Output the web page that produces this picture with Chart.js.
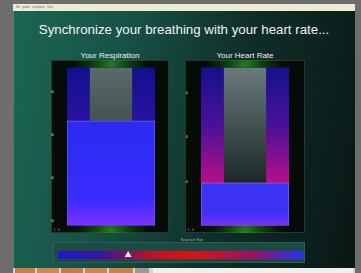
<!DOCTYPE html>
<html>
<head>
<meta charset="utf-8">
<script src="https://cdn.jsdelivr.net/npm/chart.js@4.4.0/dist/chart.umd.min.js"></script>
<style>
  body { margin: 0; width: 361px; height: 273px; background: #6d6d6d; overflow: hidden; position: relative; font-family: "Liberation Sans", Arial, sans-serif; }
  .abs { position: absolute; }
  #menu { left: 13px; top: 4px; width: 342px; height: 7px; background: #ecebd6; font-size: 3px; color: #666; line-height: 7px; padding-left: 3px; box-sizing: border-box; }
  #main { left: 13px; top: 11px; width: 342px; height: 258px; background: linear-gradient(100deg, #1c6553 0%, #175246 30%, #0f2e29 62%, #0a1715 100%); border-left: 1px solid #4d7d70; box-sizing: border-box; }
  #title { left: 13px; width: 342px; top: 22px; text-align: center; color: #f2f2f2; font-size: 13.3px; }
  .sub { color: #eee; font-size: 8px; text-align: center; }
  .panel { background: #050b07; border: 1px solid #1f3a30; box-sizing: border-box; }
  .tiny { color: #aaa; font-size: 3px; }
  #rateBox { left: 53px; top: 242px; width: 252px; height: 21px; background: #1d4a42; border: 1px solid #2d5c52; box-sizing: border-box; }
  #taskbar { left: 13px; top: 268px; width: 342px; height: 5px; background: #d9d6c8; }
  #taskbar span { position: absolute; top: 0; height: 5px; }
</style>
</head>
<body>
<div id="menu" class="abs">file &nbsp; game &nbsp; configure &nbsp; help</div>
<div id="main" class="abs"></div>
<div id="title" class="abs">Synchronize your breathing with your heart rate...</div>

<div class="abs sub" style="left:51px; width:118px; top:51px;">Your Respiration</div>
<div class="abs sub" style="left:185px; width:120px; top:51px;">Your Heart Rate</div>

<div class="abs panel" style="left:51px; top:60px; width:118px; height:173px;"></div>
<div class="abs panel" style="left:185px; top:60px; width:120px; height:173px;"></div>
<canvas id="resp" class="abs" width="118" height="173" style="left:51px; top:60px;"></canvas>
<canvas id="heart" class="abs" width="120" height="173" style="left:185px; top:60px;"></canvas>
<div class="abs tiny" style="left:54px; top:228px;">1 : 0</div>
<div class="abs tiny" style="left:188px; top:228px;">1 : 0</div>

<div class="abs tiny" style="left:160px; width:64px; top:238px; text-align:center;">Respiration Rate</div>
<div id="rateBox" class="abs"></div>
<canvas id="rate" class="abs" width="260" height="22" style="left:50px; top:242px;"></canvas>

<div id="taskbar" class="abs">
  <span style="left:2px; width:20px; background:#c8804a;"></span>
  <span style="left:24px; width:22px; background:#d08850;"></span>
  <span style="left:48px; width:22px; background:#c47c48;"></span>
  <span style="left:72px; width:22px; background:#cc8650;"></span>
  <span style="left:96px; width:24px; background:#c8804c;"></span>
  <span style="left:122px; width:14px; background:#9a9a8e;"></span>
  <span style="left:140px; width:200px; background:#f0f0ea;"></span>
</div>

<script>
// respiration panel
const respTicks = [0, 1, 2, 3];
const respMin = -0.1;
const respMax = 3.57;
const respValue = 2.33;

// heart rate panel
const heartTicks = [60, 70, 80];
const heartMin = 50;
const heartMax = 85.8;
const heartValue = 59.7;

// respiration rate strip
const rateTicks = [0, 5, 10, 15, 20, 25];
const rateMin = -0.32;
const rateMax = 25.6;
const rateValue = 7.1;

function vGrad(chart, top, bottom, stops) {
    const g = chart.ctx.createLinearGradient(0, top, 0, bottom);
    stops.forEach(function(s) { g.addColorStop(s[0], s[1]); });
    return g;
}

// green glow at top and bottom of the black panels
const glowPlugin = {
    id: 'glow',
    beforeDraw: function(chart) {
        const c = chart.ctx;
        const a = chart.chartArea;
        const cx = (a.left + a.right) / 2;
        [a.top - 2, a.bottom + 6].forEach(function(y) {
            const g = c.createRadialGradient(cx, y, 0, cx, y, 40);
            g.addColorStop(0, 'rgba(40,150,30,0.85)');
            g.addColorStop(1, 'rgba(20,80,20,0)');
            c.save();
            c.fillStyle = g;
            c.fillRect(0, 0, chart.width, chart.height);
            c.restore();
        });
    }
};

function makeLevel(id, ticks, digits, min, max, value, cols, grayCols, barCols, padRight) {
    new Chart(document.getElementById(id), {
        type: 'bar',
        data: {
            labels: [''],
            datasets: [{
                data: [[min, max]],
                grouped: false,
                order: 3,
                barPercentage: 1,
                categoryPercentage: 1,
                backgroundColor: function(ctx) {
                    const a = ctx.chart.chartArea;
                    if (!a) return null;
                    return vGrad(ctx.chart, a.top, ctx.chart.scales.y.getPixelForValue(value), cols);
                }
            }, {
                data: [[value, max]],
                grouped: false,
                order: 2,
                barPercentage: 0.48,
                categoryPercentage: 1,
                backgroundColor: function(ctx) {
                    const a = ctx.chart.chartArea;
                    if (!a) return null;
                    return vGrad(ctx.chart, a.top, ctx.chart.scales.y.getPixelForValue(value), grayCols);
                }
            }, {
                data: [[min, value]],
                grouped: false,
                order: 1,
                barPercentage: 1,
                categoryPercentage: 1,
                borderWidth: 1,
                borderColor: 'rgba(130,130,255,0.7)',
                borderSkipped: false,
                backgroundColor: function(ctx) {
                    const a = ctx.chart.chartArea;
                    if (!a) return null;
                    return vGrad(ctx.chart, ctx.chart.scales.y.getPixelForValue(value), a.bottom, barCols);
                }
            }]
        },
        options: {
            responsive: false,
            animation: false,
            layout: { padding: { left: 0, right: padRight, top: 6, bottom: 7 } },
            plugins: { legend: { display: false }, tooltip: { enabled: false } },
            scales: {
                x: { display: false },
                y: {
                    min: min,
                    max: max,
                    afterBuildTicks: function(scale) { scale.ticks = ticks.map(function(v) { return { value: v }; }); },
                    afterFit: function(scale) { scale.width = 16; },
                    grid: { display: false },
                    border: { display: false },
                    ticks: {
                        color: '#d8d8d8',
                        font: { size: 4 },
                        padding: 5,
                        callback: function(v) { return Number(v).toFixed(digits); }
                    }
                }
            }
        },
        plugins: [glowPlugin]
    });
}

document.addEventListener('DOMContentLoaded', function() {
    makeLevel('resp', respTicks, 2, respMin, respMax, respValue,
        [[0, '#11108c'], [1, '#2a12a0']],
        [[0, '#5a6a6a'], [1, '#445252']],
        [[0, '#2a2af2'], [0.75, '#3a2cff'], [1, '#7e32ff']], 14);

    makeLevel('heart', heartTicks, 1, heartMin, heartMax, heartValue,
        [[0, '#15128c'], [0.5, '#4a1098'], [1, '#b4108a']],
        [[0, '#6a7a7a'], [1, '#1c2828']],
        [[0, '#3636f2'], [0.7, '#4030f8'], [1, '#7a32f4']], 16);

    new Chart(document.getElementById('rate'), {
        type: 'bar',
        data: {
            labels: ['1'],
            datasets: [{
                data: [[rateMin, rateMax]],
                grouped: false,
                order: 2,
                barPercentage: 1,
                categoryPercentage: 1,
                backgroundColor: function(ctx) {
                    const a = ctx.chart.chartArea;
                    if (!a) return null;
                    const g = ctx.chart.ctx.createLinearGradient(a.left, 0, a.right, 0);
                    g.addColorStop(0, '#1a1ad0');
                    g.addColorStop(0.18, '#3a149c');
                    g.addColorStop(0.38, '#c01028');
                    g.addColorStop(0.55, '#e01212');
                    g.addColorStop(0.8, '#9a1068');
                    g.addColorStop(1, '#2232ff');
                    return g;
                }
            }, {
                type: 'line',
                data: [rateValue],
                order: 1,
                showLine: false,
                pointStyle: 'triangle',
                pointRadius: 4,
                pointBackgroundColor: '#f4f4f4',
                pointBorderWidth: 0
            }]
        },
        options: {
            indexAxis: 'y',
            responsive: false,
            animation: false,
            layout: { padding: { left: 0, right: 7, top: 0, bottom: 5 } },
            plugins: { legend: { display: false }, tooltip: { enabled: false } },
            scales: {
                x: {
                    position: 'top',
                    min: rateMin,
                    max: rateMax,
                    afterBuildTicks: function(scale) { scale.ticks = rateTicks.map(function(v) { return { value: v }; }); },
                    afterFit: function(scale) { scale.height = 9; },
                    grid: { display: false },
                    border: { display: false },
                    ticks: { color: '#cfcfcf', font: { size: 4 }, padding: 1, maxRotation: 0, callback: function(v) { return Number(v).toFixed(1); } }
                },
                y: {
                    afterFit: function(scale) { scale.width = 8; },
                    grid: { display: false },
                    border: { display: false },
                    ticks: { color: '#cfcfcf', font: { size: 4 }, padding: 2 }
                }
            }
        }
    });
});
</script>
</body>
</html>
